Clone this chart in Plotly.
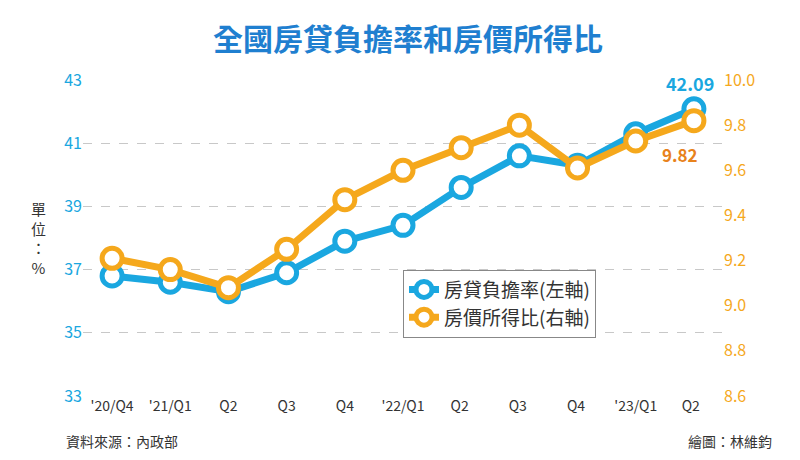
import plotly.graph_objects as go

quarters = ["'20/Q4", "'21/Q1", "Q2", "Q3", "Q4", "'22/Q1", "Q2 ", "Q3 ", "Q4 ", "'23/Q1", "Q2  "]
burden = [36.8, 36.6, 36.3, 36.9, 37.9, 38.4, 39.6, 40.6, 40.3, 41.3, 42.09]
ratio = [9.21, 9.16, 9.08, 9.25, 9.47, 9.60, 9.70, 9.80, 9.61, 9.73, 9.82]

blue = "#1aa7e0"
orange = "#f5a81c"
font = "Noto Sans CJK TC"

fig = go.Figure()
fig.add_trace(go.Scatter(
    x=quarters, y=ratio, name="房價所得比(右軸)", yaxis="y2",
    mode="lines+markers", line=dict(color=orange, width=7),
    marker=dict(size=20, color="white", line=dict(color=orange, width=5))))
fig.add_trace(go.Scatter(
    x=quarters, y=burden, name="房貸負擔率(左軸)",
    mode="lines+markers", line=dict(color=blue, width=7),
    marker=dict(size=20, color="white", line=dict(color=blue, width=5))))

fig.add_annotation(x=quarters[-1], y=burden[-1], text="<b>42.09</b>", showarrow=False,
                   yshift=26, xshift=-4, font=dict(size=18, color=blue, family=font))
fig.add_annotation(x=quarters[-1], y=ratio[-1], yref="y2", text="<b>9.82</b>", showarrow=False,
                   yshift=-34, xshift=-14, font=dict(size=17, color="#e8821c", family=font))

fig.update_layout(
    width=800, height=460, margin=dict(l=75, r=85, t=72, b=72),
    paper_bgcolor="white", plot_bgcolor="white",
    font=dict(family=font, size=14, color="#333"),
    title=dict(text="<b>全國房貸負擔率和房價所得比</b>", x=0.5, y=0.955,
               font=dict(size=30, color="#1f7fd0", family=font)),
    xaxis=dict(showgrid=False, tickfont=dict(size=14, color="#333"), showline=False,
               ticks="", range=[-0.5, 10.5]),
    yaxis=dict(range=[33, 43], tickvals=[33, 35, 37, 39, 41, 43], showgrid=True,
               gridcolor="#c8c8c8", griddash="dash", zeroline=False,
               tickfont=dict(size=16, color=blue)),
    yaxis2=dict(range=[8.6, 10.0], tickvals=[8.6, 8.8, 9.0, 9.2, 9.4, 9.6, 9.8, 10.0],
                tickformat=".1f", overlaying="y", side="right", showgrid=False,
                zeroline=False, tickfont=dict(size=16, color=orange)),
    legend=dict(x=0.5, y=0.4, xanchor="left", yanchor="top", traceorder="reversed",
                bordercolor="#888", borderwidth=1, bgcolor="white",
                font=dict(size=19, color="#333", family=font)),
)
fig.add_annotation(text="單<br>位<br>：<br>%", xref="paper", yref="paper", x=-0.085, y=0.5,
                   showarrow=False, font=dict(size=15, color="#333"))
fig.add_annotation(text="資料來源：內政部", xref="paper", yref="paper", x=-0.03, y=-0.18,
                   xanchor="left", showarrow=False, font=dict(size=14, color="#333"))
fig.add_annotation(text="繪圖：林維鈞", xref="paper", yref="paper", x=1.08, y=-0.18,
                   xanchor="right", showarrow=False, font=dict(size=14, color="#333"))

fig.write_html("out.html")
